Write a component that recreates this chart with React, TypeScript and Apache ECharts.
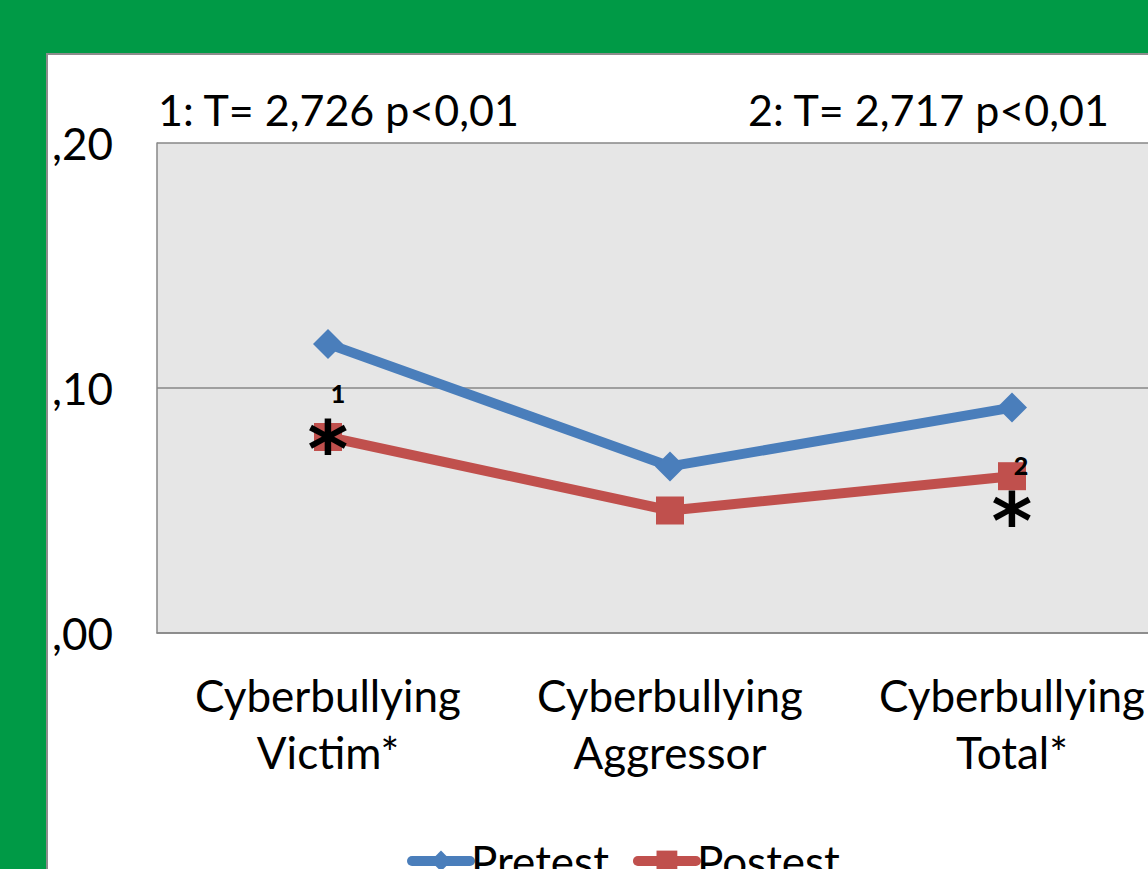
import React, { useEffect, useRef } from "react";
import * as echarts from "echarts";

const categories = ["Cyberbullying\nVictim*", "Cyberbullying\nAggressor", "Cyberbullying\nTotal*"];
const pretest = [0.118, 0.068, 0.092];
const posttest = [0.080, 0.050, 0.064];
const yTickLabels = [",00", ",10", ",20"];
const annotations = ["1: T= 2,726 p<0,01", "2: T= 2,717 p<0,01"];

const FONT = "Lato, 'Open Sans', sans-serif";

export default function App() {
  const ref = useRef<HTMLDivElement>(null);
  useEffect(() => {
    document.body.style.margin = "0";
    const chart = echarts.init(ref.current!, undefined, { renderer: "svg" });
    const gridColor = "#878787";
    const star = (coordIdx: number, value: number, dy: number) => ({
      coord: [coordIdx, value],
      label: {
        show: true,
        formatter: "*",
        fontSize: 78,
        lineHeight: 36,
        fontWeight: "bold",
        fontFamily: "'DejaVu Sans', sans-serif",
        color: "#000",
        offset: [0, dy],
      },
    });
    const sup = (coordIdx: number, value: number, text: string, dx: number, dy: number) => ({
      coord: [coordIdx, value],
      label: {
        show: true,
        formatter: text,
        fontSize: 25,
        lineHeight: 20,
        fontWeight: 900,
        fontFamily: FONT,
        color: "#000",
        offset: [dx, dy],
      },
    });
    chart.setOption({
      animation: false,
      backgroundColor: "transparent",
      textStyle: { fontFamily: FONT },
      grid: {
        left: 157,
        top: 143,
        width: 1026,
        height: 490,
        show: true,
        backgroundColor: "#e6e6e6",
        borderWidth: 0,
        outerBoundsMode: "none",
        containLabel: false,
      },
      xAxis: {
        type: "category",
        data: categories,
        boundaryGap: true,
        axisLine: { show: true, lineStyle: { color: gridColor, width: 1.5 } },
        axisTick: { show: false },
        axisLabel: {
          color: "#000",
          fontSize: 44,
          fontFamily: FONT,
          lineHeight: 57,
          margin: 33,
          interval: 0,
        },
      },
      yAxis: {
        type: "value",
        min: 0,
        max: 0.2,
        interval: 0.1,
        axisLine: { show: true, lineStyle: { color: gridColor, width: 1.5 } },
        axisTick: { show: false },
        splitLine: { show: true, lineStyle: { color: gridColor, width: 1.5 } },
        axisLabel: {
          color: "#000",
          fontSize: 44,
          fontFamily: FONT,
          margin: 44,
          formatter: (_v: number, i: number) => yTickLabels[i],
        },
      },
      legend: {
        left: 402,
        top: 834,
        itemWidth: 58,
        itemHeight: 26,
        itemGap: 24,
        textStyle: { color: "#000", fontSize: 44, fontFamily: FONT, padding: [0, 0, 0, -4] },
        data: [
          { name: "Pretest", lineStyle: { width: 10, cap: "round" } },
          { name: "Postest", lineStyle: { width: 10, cap: "round" } },
        ],
      },
      graphic: [
        {
          type: "text",
          left: 158,
          top: 88,
          style: { text: annotations[0], fill: "#000", font: `43px ${FONT}` },
        },
        {
          type: "text",
          left: 748,
          top: 88,
          style: { text: annotations[1], fill: "#000", font: `43px ${FONT}` },
        },
      ],
      series: [
        {
          name: "Pretest",
          type: "line",
          data: pretest,
          symbol: "diamond",
          symbolSize: 30,
          itemStyle: { color: "#4a7ebb" },
          lineStyle: { color: "#4a7ebb", width: 10 },
          z: 3,
        },
        {
          name: "Postest",
          type: "line",
          data: posttest,
          symbol: "rect",
          symbolSize: 28,
          itemStyle: { color: "#c0504d" },
          lineStyle: { color: "#c0504d", width: 10 },
          z: 3,
          markPoint: {
            symbol: "circle",
            symbolSize: 0,
            silent: true,
            data: [
              star(0, posttest[0], 13),
              sup(0, posttest[0], "1", 10, -44),
              star(2, posttest[2], 46),
              sup(2, posttest[2], "2", 9, -11),
            ],
          },
        },
      ],
    });
    return () => chart.dispose();
  }, []);
  return (
    <div style={{ position: "relative", width: 1148, height: 869, background: "#009a46", overflow: "hidden" }}>
      <div
        style={{
          position: "absolute",
          left: 46,
          top: 53,
          width: 1200,
          height: 900,
          background: "#fff",
          border: "2px solid #8c8c8c",
        }}
      />
      <div ref={ref} style={{ position: "absolute", left: 0, top: 0, width: 1148, height: 869 }} />
    </div>
  );
}
